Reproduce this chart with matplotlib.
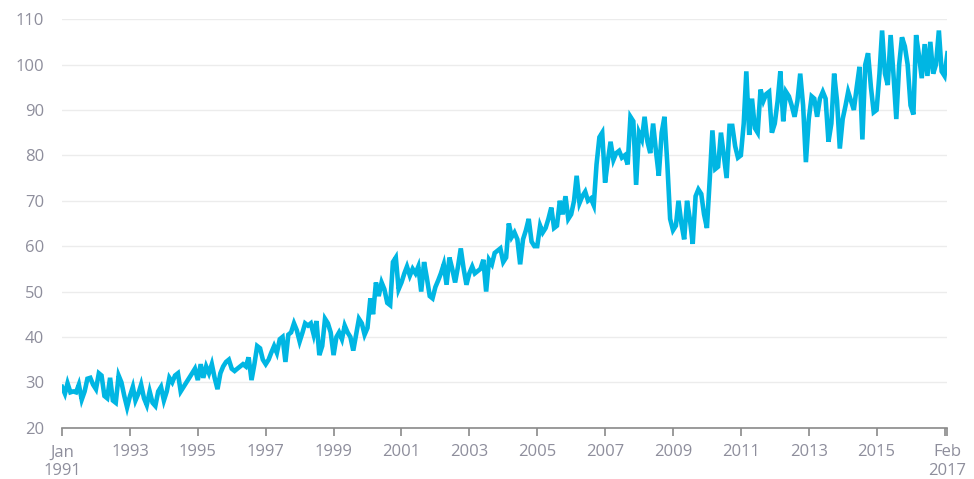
import numpy as np
import pandas as pd
import matplotlib
matplotlib.use("Agg")
import matplotlib.pyplot as plt
import matplotlib.dates as mdates

# monthly values, Jan 1991 - Feb 2017
v1991 = [29, 27.5, 29.8, 27.8, 28, 27.8, 29.5, 26.2, 28, 30.8, 31, 29.5]
v1992 = [28.5, 32, 31.5, 27, 26.5, 31, 26, 25.5, 31.5, 30, 27, 24.5]
v1993 = [27, 29, 26, 27.5, 29.5, 26.5, 25, 28, 25.5, 24.8, 28, 29]
v1994 = [26, 28, 31, 30, 31.5, 32, 28, 29, 30, 31, 32, 33]
v1995 = [30.5, 34, 31, 33.5, 32, 34, 31, 28.5, 32, 33.5, 34.5, 35]
v1996 = [33, 32.5, 33, 33.5, 34, 33.5, 35.5, 30.5, 34, 38, 37.5, 35]
v1997 = [34, 35, 36.5, 38, 36.5, 39.5, 40, 34.5, 40.5, 41, 43, 41.5]
v1998 = [39, 41, 43, 42.5, 43, 40.5, 43.5, 36, 38, 44, 43, 41]
v1999 = [36, 40, 41, 39.5, 42.5, 41, 40, 37, 40.5, 44, 43, 40.5]
v2000 = [42, 48.5, 45, 52, 49, 52, 50.5, 47.5, 47, 56.5, 57.5, 50.5]
v2001 = [52, 54, 55.5, 53.5, 55, 54, 55.5, 50, 56.5, 53, 49, 48.5]
v2002 = [51, 52.5, 54, 56, 51.5, 57.5, 55, 52, 55.5, 59.5, 55, 51.5]
v2003 = [54, 55.5, 54, 54.5, 55, 57, 50, 57, 56, 58.5, 59, 59.5]
v2004 = [56.5, 57.5, 65, 62, 63, 61.5, 56, 61.5, 63.5, 66, 61, 60]
v2005 = [60, 64.5, 63, 64, 66, 68.5, 64, 64.5, 70, 67, 71, 66]
v2006 = [67, 70, 75.5, 69.5, 71, 72, 70, 70.5, 69, 78, 84, 85]
v2007 = [74, 79, 83, 79, 80.5, 81, 79.5, 80, 78, 88.5, 87.5, 73.5]
v2008 = [85, 83.5, 88.5, 83, 80.5, 87, 81, 75.5, 85, 88.5, 78, 66]
v2009 = [63.5, 64.5, 70, 65, 61.5, 70, 66, 60.5, 71, 72.5, 71.5, 67]
v2010 = [64, 75, 85.5, 77, 77.5, 85, 80, 75, 86.5, 86.5, 82, 79.5]
v2011 = [80, 87, 98.5, 84.5, 92.5, 86, 85, 94.5, 92, 93.5, 94, 85]
v2012 = [87, 92, 98.5, 87.5, 94, 93, 91, 88.5, 92, 98, 91, 78.5]
v2013 = [88, 93, 92.5, 88.5, 92.5, 94, 92.5, 83, 87, 98, 92, 81.5]
v2014 = [88, 91, 94, 92, 90, 95, 99.5, 83.5, 100, 102.5, 95, 89.5]
v2015 = [90, 98, 107.5, 98, 95.5, 106.5, 98, 88, 100, 106, 104, 100]
v2016 = [91, 89, 106.5, 102, 97, 104.5, 97.5, 105, 98, 100, 107.5, 98.5]
v2017 = [97.5, 102.5]

values = (v1991 + v1992 + v1993 + v1994 + v1995 + v1996 + v1997 + v1998 + v1999
          + v2000 + v2001 + v2002 + v2003 + v2004 + v2005 + v2006 + v2007 + v2008
          + v2009 + v2010 + v2011 + v2012 + v2013 + v2014 + v2015 + v2016 + v2017)
dates = pd.date_range("1991-01-01", periods=len(values), freq="MS")

y_ticks = [20, 30, 40, 50, 60, 70, 80, 90, 100, 110]
tick_dates = [pd.Timestamp("1991-01-01")] + [pd.Timestamp(f"{y}-01-01") for y in range(1993, 2018, 2)] + [pd.Timestamp("2017-02-01")]
tick_labels = ["Jan\n1991"] + [str(y) for y in range(1993, 2017, 2)] + ["", "Feb\n2017"]

label_color = "#8e8e9c"

plt.rcParams["font.family"] = ["Open Sans", "DejaVu Sans"]

fig = plt.figure(figsize=(9.74, 4.79), dpi=100)
ax = fig.add_axes([0.0637, 0.107, 0.909, 0.853])

ax.plot(dates, values, color="#00b6e3", linewidth=3.3, solid_joinstyle="miter")

ax.set_ylim(20, 110)
ax.set_xlim(dates[0], dates[-1])
ax.set_yticks(y_ticks)
ax.set_xticks(tick_dates)
ax.set_xticklabels(tick_labels)

ax.grid(axis="y", color="#ececec", linewidth=1)
ax.set_axisbelow(True)
for side in ["top", "right", "left"]:
    ax.spines[side].set_visible(False)
ax.spines["bottom"].set_color("#8a8a8a")
ax.spines["bottom"].set_linewidth(1.2)

ax.tick_params(axis="y", length=0, pad=13, labelsize=12, labelcolor=label_color)
ax.tick_params(axis="x", length=6, width=1.2, color="#8a8a8a", pad=6,
               labelsize=12, labelcolor=label_color)

plt.savefig("out.png", dpi=100)
